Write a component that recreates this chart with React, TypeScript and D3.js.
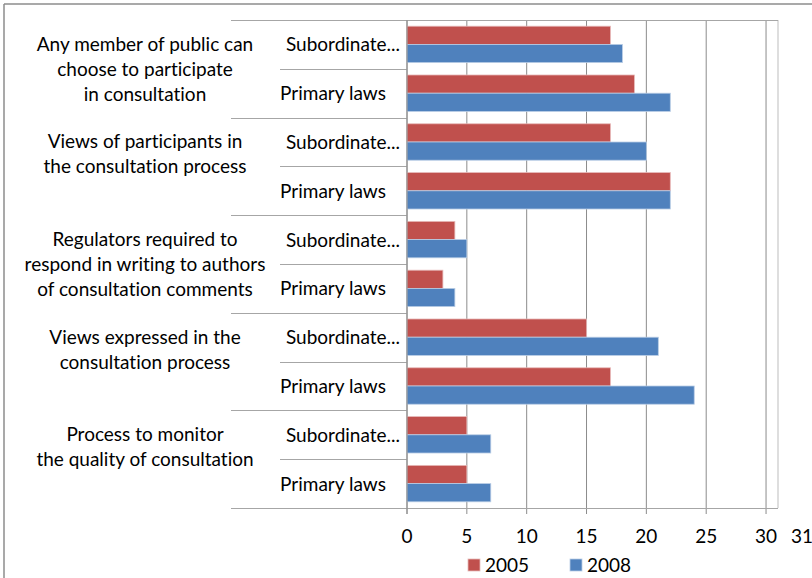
import React from "react";
import * as d3 from "d3";

const groups = [
  ["Any member of public can", "choose to participate", "in consultation"],
  ["Views of participants in", "the consultation process"],
  ["Regulators required to", "respond in writing to authors", "of consultation comments"],
  ["Views expressed in the", "consultation process"],
  ["Process to monitor", "the quality of consultation"],
];
const subCategories = ["Subordinate...", "Primary laws"];
const series = ["2005", "2008"];
const values2005 = [17, 19, 17, 22, 4, 3, 15, 17, 5, 5];
const values2008 = [18, 22, 20, 22, 5, 4, 21, 24, 7, 7];
const xTicks = [0, 5, 10, 15, 20, 25, 30, 31];
const colors = ["#C0504D", "#4F81BD"];
const strokeColors = ["#E6B9B8", "#B9CDE5"];

const W = 812;
const H = 578;
const plot = { left: 407, right: 778, top: 20, bottom: 508 };
const FONT = "Lato, 'Open Sans', sans-serif";
const FS = 19;

export default function App() {
  const x = d3.scaleLinear().domain([0, 31]).range([plot.left, plot.right]);
  const rows = d3.range(values2005.length);
  const y = d3.scaleBand<number>().domain(rows).range([plot.top, plot.bottom]).paddingInner(0).paddingOuter(0);
  const rowH = y.bandwidth();
  const inner = d3.scaleBand<string>().domain(series).range([0, rowH]).paddingInner(0).paddingOuter(0.34);
  const data = [values2005, values2008];
  const gridTicks = xTicks.filter((t) => t <= 30);
  const txtStyle = { fontVariantLigatures: "none" as const };

  return (
    <svg width={W} height={H} style={{ position: "absolute", left: 0, top: 0, background: "#fff" }} fontFamily={FONT}>
      {/* outer border */}
      <line x1={4} y1={4} x2={W} y2={4} stroke="#8c8c8c" strokeWidth={1.5} />
      <line x1={4} y1={4} x2={4} y2={H} stroke="#8c8c8c" strokeWidth={1.5} />

      {/* gridlines */}
      {gridTicks.map((t) => (
        <line key={"g" + t} x1={x(t)} x2={x(t)} y1={plot.top} y2={plot.bottom + 6} stroke="#8c8c8c" strokeWidth={1} />
      ))}
      <line x1={plot.right} x2={plot.right} y1={plot.top} y2={plot.bottom} stroke="#c8c8c8" strokeWidth={1.2} />

      {/* row separators */}
      {d3.range(values2005.length + 1).map((i) => {
        const yy = i < values2005.length ? (y(i) as number) : plot.bottom;
        const isGroup = i % 2 === 0;
        return (
          <line
            key={"s" + i}
            x1={isGroup ? 231 : 280}
            x2={isGroup && (i === 0 || i === values2005.length) ? plot.right : plot.left}
            y1={Math.round(yy) + 0.5}
            y2={Math.round(yy) + 0.5}
            stroke="#a6a6a6"
            strokeWidth={1}
          />
        );
      })}

      {/* bars */}
      {series.map((s, si) =>
        rows.map((r) => (
          <rect
            key={s + r}
            x={x(0)}
            y={(y(r) as number) + (inner(s) as number)}
            width={x(data[si][r]) - x(0)}
            height={inner.bandwidth()}
            fill={colors[si]}
            stroke={strokeColors[si]}
            strokeWidth={0.8}
          />
        ))
      )}

      {/* value axis line */}
      <line x1={plot.left} x2={plot.left} y1={plot.top} y2={plot.bottom + 6} stroke="#8c8c8c" strokeWidth={1} />

      {/* x tick labels */}
      {xTicks.map((t) => (
        <text key={"t" + t} x={t === 31 ? 802 : x(t)} y={543} textAnchor="middle" fontSize={FS} fill="#000" style={txtStyle}>
          {t}
        </text>
      ))}

      {/* sub category labels */}
      {rows.map((r) => {
        const cy = (y(r) as number) + rowH / 2;
        const isSub = r % 2 === 0;
        return (
          <text key={"c" + r} x={isSub ? 343 : 333} y={cy + 7} textAnchor="middle" fontSize={FS} fill="#000" style={txtStyle}>
            {subCategories[r % 2]}
          </text>
        );
      })}

      {/* group labels */}
      {groups.map((lines, gi) => {
        const gTop = y(gi * 2) as number;
        const cy = gTop + rowH;
        return lines.map((ln, li) => (
          <text key={"gl" + gi + li} x={145} y={cy + (li - 1) * 25 + 7} textAnchor="middle" fontSize={FS} fill="#000" style={txtStyle}>
            {ln}
          </text>
        ));
      })}

      {/* legend */}
      {series.map((s, si) => (
        <g key={"l" + s} transform={`translate(${[468, 570][si]},559)`}>
          <rect x={0} y={0} width={12} height={12} fill={colors[si]} stroke={strokeColors[si]} strokeWidth={0.8} />
          <text x={17} y={13} fontSize={FS} fill="#000" style={txtStyle}>
            {s}
          </text>
        </g>
      ))}
    </svg>
  );
}
